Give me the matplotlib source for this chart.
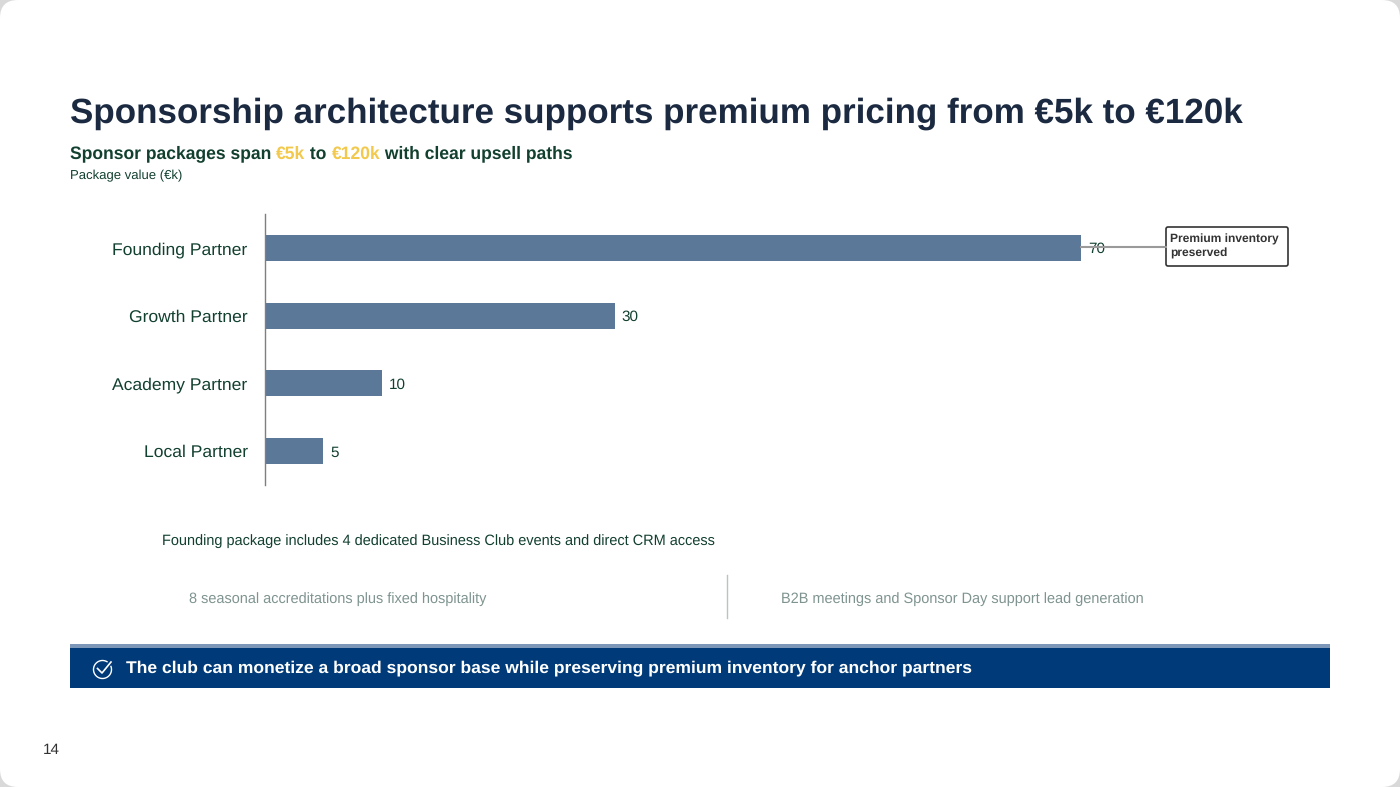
#!/usr/bin/env python
# Sponsorship package slide: horizontal bars with headline, notes and takeaway banner
import matplotlib
matplotlib.use('Agg')
import matplotlib.pyplot as plt
import matplotlib.patches as mpatches
import numpy as np

plt.rcParams['font.family'] = ['Liberation Sans', 'DejaVu Sans']
plt.rcParams['text.hinting'] = 'no_hinting'

W, H = 1400, 787

partners = ['Founding Partner', 'Growth Partner', 'Academy Partner', 'Local Partner']
package_value = [70, 30, 10, 5]

title = 'Sponsorship architecture supports premium pricing from €5k to €120k'
subtitle_parts = [('Sponsor packages span ', '#12402f'), ('€5k', '#f2c94c'), (' to ', '#12402f'),
                  ('€120k', '#f2c94c'), (' with clear upsell paths', '#12402f')]
axis_note = 'Package value (€k)'
callout = 'Premium inventory\npreserved'
founding_note = 'Founding package includes 4 dedicated Business Club events and direct CRM access'
left_note = '8 seasonal accreditations plus fixed hospitality'
right_note = 'B2B meetings and Sponsor Day support lead generation'
takeaway = 'The club can monetize a broad sponsor base while preserving premium inventory for anchor partners'
page_no = '14'

DARK = '#12402f'
NAVY = '#003a78'

fig = plt.figure(figsize=(W/100, H/100), dpi=100, facecolor='#d9d9d9')


def pixel_layer(zorder):
    # full-figure axes in pixel coordinates, y pointing down
    layer = fig.add_axes([0, 0, 1, 1], zorder=zorder)
    layer.set_xlim(0, W)
    layer.set_ylim(H, 0)
    layer.axis('off')
    return layer


back = pixel_layer(0)
back.add_patch(mpatches.FancyBboxPatch((0, 0), W, H, boxstyle='round,pad=0,rounding_size=18',
                                       fc='white', ec='none'))

page = pixel_layer(2)
page.text(70, 113.5, title, fontsize=25.2, fontweight='bold', color='#1b2a41', va='center')

# subtitle with coloured amounts, laid out run by run on one baseline
x = 70
rend = fig.canvas.get_renderer()
for part, col in subtitle_parts:
    page.text(x, 158.5, part, fontsize=12.62, fontweight='bold', color=col, va='baseline')
    # trailing spaces are not measured reliably, so measure with a stand-in
    ext = page.text(0, 0, part.replace(' ', '\u00a0'), fontsize=12.62, fontweight='bold', alpha=0)
    x += ext.get_window_extent(rend).width
    ext.remove()
page.text(70, 175.5, axis_note, fontsize=9.45, color=DARK, va='center')

page.text(162, 541, founding_note, fontsize=10.48, color=DARK, va='center')
page.text(189, 599, left_note, fontsize=10.48, color='#7f9490', va='center')
page.text(781, 599, right_note, fontsize=10.48, color='#7f9490', va='center')
page.plot([727, 727], [575, 618], color='#b9c4c2', lw=1)

# takeaway banner
page.add_patch(mpatches.Rectangle((70, 644), 1260, 44, fc=NAVY, ec='none'))
page.add_patch(mpatches.Rectangle((70, 644), 1260, 4, fc='#7d97b8', ec='none'))
page.text(126, 668, takeaway, fontsize=12.6, fontweight='bold', color='white', va='center')
ang = np.radians(np.linspace(60, 380, 60))
page.plot(102.5 + 9*np.cos(ang), 669.5 - 9*np.sin(ang), color='white', lw=1)
page.plot([97.5, 102, 111], [668.5, 673, 662], color='white', lw=1.2)

page.text(51, 750, page_no, fontsize=11, color='#333333', va='center', ha='center')

# chart, scaled so one unit is 11.66 px
ax_left, ax_top, ax_right, ax_bottom = 265, 214, 1330, 485
ax = fig.add_axes([ax_left/W, 1 - ax_bottom/H, (ax_right-ax_left)/W, (ax_bottom-ax_top)/H],
                  zorder=1)
ax.patch.set_alpha(0)
ypos = np.arange(len(partners))
ax.barh(ypos, package_value, height=0.385, color='#5b7898')
ax.set_xlim(0, (ax_right-ax_left)/11.66)
ax.set_ylim(3.5, -0.5)
ax.set_yticks(ypos, partners, fontsize=12.6, color=DARK, va='center_baseline')
ax.tick_params(axis='y', length=0, pad=12.5)
ax.xaxis.set_visible(False)
for side in ['top', 'right', 'bottom']:
    ax.spines[side].set_visible(False)
ax.spines['left'].set_color('#7f7f7f')
ax.spines['left'].set_linewidth(1)
for y, v in zip(ypos, package_value):
    ax.annotate(str(v), (v, y), xytext=(5, 0), textcoords='offset points',
                fontsize=11, color=DARK, va='center_baseline')

# callout tied to the top bar, passing over its value label
page.plot([1081, 1166], [247, 247], color='#9a9a9a', lw=1.5)
page.add_patch(mpatches.FancyBboxPatch((1166, 227), 122, 39, boxstyle='round,pad=0,rounding_size=2',
                                       fc='white', ec='#333333', lw=1.2))
page.text(1170, 246.5, callout, fontsize=8.65, fontweight='bold', color='#333333', va='center',
          linespacing=1.3)

fig.savefig('out.png', dpi=100, facecolor=fig.get_facecolor())
